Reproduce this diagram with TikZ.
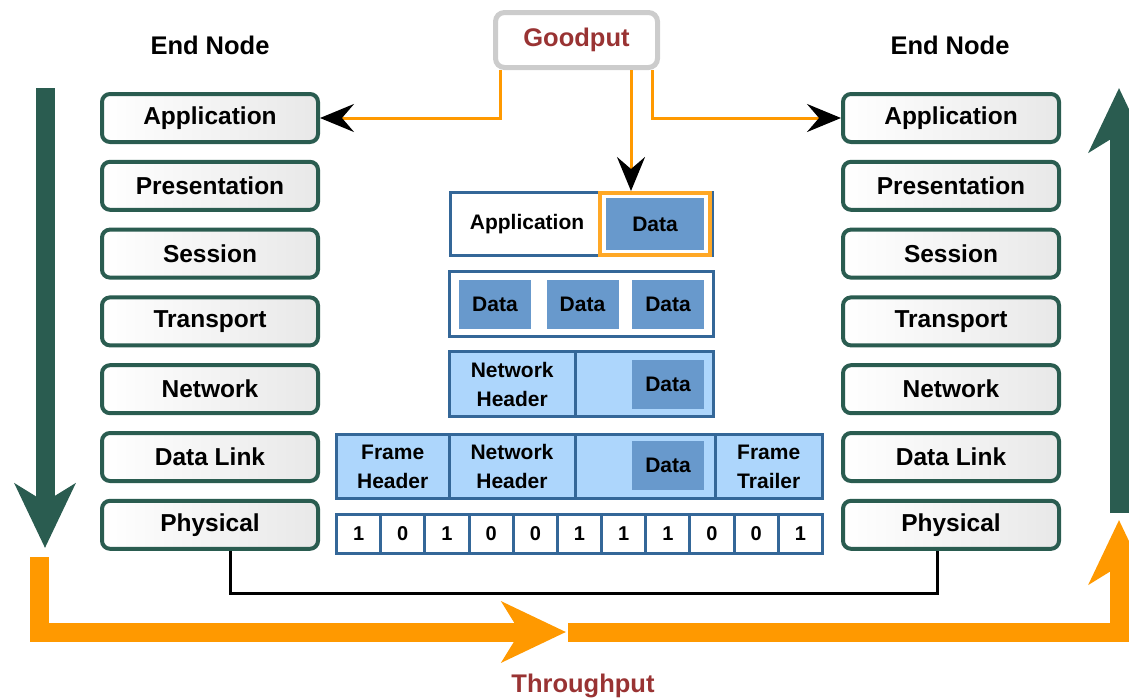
\documentclass[tikz,border=0pt]{standalone}
\usepackage{fontspec}
\setmainfont{Liberation Sans}
\usepackage{xcolor}
\usepackage{tikz}
\usetikzlibrary{arrows.meta, calc, positioning}

\definecolor{vertF}{RGB}{42,92,80}
\definecolor{bleuB}{RGB}{52,103,152}
\definecolor{bleuD}{RGB}{104,153,204}
\definecolor{bleuC}{RGB}{173,214,252}
\definecolor{orangeF}{RGB}{255,153,0}
\definecolor{rougeT}{RGB}{153,51,51}

\begin{document}
\begin{tikzpicture}[x=1pt, y=-1pt,
    couche/.style={draw=vertF, line width=4pt, rounded corners=8pt, left color=white, right color=black!9,
        minimum width=216pt, minimum height=48pt, inner sep=0pt, font=\fontsize{24.5}{28}\selectfont\bfseries},
    titre/.style={font=\fontsize{25.5}{30}\selectfont\bfseries},
    trame/.style={draw=bleuB, line width=3pt, inner sep=0pt},
    champ/.style={trame, fill=bleuC, align=center, font=\fontsize{21}{29}\selectfont\bfseries},
    donnee/.style={fill=bleuD, minimum width=72pt, minimum height=49pt, inner sep=0pt, font=\fontsize{21}{29}\selectfont\bfseries},
    bit/.style={trame, fill=white, minimum width=44.18pt, minimum height=39pt, font=\fontsize{20}{24}\selectfont\bfseries},
    filo/.style={draw=orangeF, line width=3pt, -{Stealth[black, length=34pt, width=28pt, inset=12pt]}},
    grosse/.style={line width=19pt, line join=miter, -{Stealth[length=64pt, width=60pt, inset=18pt]}}
]
    \useasboundingbox (0,0) rectangle (1129,699);

    % Couches OSI
    \foreach \nom [count=\i] in {Application, Presentation, Session, Transport, Network, Data Link, Physical} {
        \node[couche] (g\i) at (210, {50.2+67.8*\i}) {\nom};
        \node[couche] (d\i) at (951, {50.2+67.8*\i}) {\nom};
    }

    % Titres
    \node[titre] (titreG) at (210,45) {End Node};
    \node[titre] (titreD) at (950,45) {End Node};
    \node[titre, text=rougeT, draw=black!20, line width=5pt, rounded corners=9pt, fill=white,
        minimum width=162pt, minimum height=55pt, inner sep=0pt] (gp) at (576.5,40) {Goodput};
    \node[titre, text=rougeT] (tp) at (583,686) {Throughput};

    % Application
    \node[trame, fill=white, minimum width=262pt, minimum height=63pt] (pApp) at (581.5,224) {};
    \node[font=\fontsize{21}{29}\selectfont\bfseries] (tApp) at (527,224) {Application};
    \node[draw=orangeF!85, line width=4pt, minimum width=110pt, minimum height=62pt, inner sep=0pt] (cadre) at (655,224) {};
    \node[donnee, minimum width=98pt, minimum height=52pt] (dApp) at (655,224) {Data};

    % Segments
    \node[trame, fill=white, minimum width=264pt, minimum height=65pt] (pSeg) at (581.5,304) {};
    \foreach \x [count=\i] in {495, 582.5, 668}
        \node[donnee] (seg\i) at (\x,304.5) {Data};

    % Paquet
    \node[champ, minimum width=125.5, minimum height=65] (paqH) at (512.25,384) {Network\\Header};
    \node[champ, minimum width=138.5, minimum height=65] (paqD) at (644.25,384) {};
    \node[donnee] (paqData) at (668,384.5) {Data};

    % Trame
    \foreach \c/\w/\nom/\txt in {392.75/112.5/trH/{Frame\\Header}, 512/126/trN/{Network\\Header},
                                 645/140/trD/{}, 768.75/107.5/trT/{Frame\\Trailer}}
        \node[champ, minimum width=\w, minimum height=64] (\nom) at (\c,466.5) {\txt};
    \node[donnee] (trData) at (668,465.5) {Data};

    % Bits
    \foreach \b [count=\i] in {1,0,1,0,0,1,1,1,0,0,1}
        \node[bit] (b\i) at ({336.5+44.18*(\i-0.5)},534) {\b};

    % Goodput
    \draw[filo] ([xshift=7pt]gp.south west) |- (g1.east);
    \draw[filo] ([xshift=-8pt]gp.south east) |- (d1.west);
    \draw[filo] ([xshift=54.5pt]gp.south) -- ([xshift=54.5pt]gp.south |- cadre.north);

    % Cable
    \draw[black, line width=3pt] ([xshift=20pt]g7.south) -- ++(0,43) -| ([xshift=-14pt]d7.south);

    % Grosses fleches
    \coordinate (hautG) at (45,88);
    \coordinate (basG) at (45,548);
    \coordinate (basD) at (1119,513);
    \coordinate (hautD) at (1119,88);
    \draw[grosse, vertF] (hautG) -- (basG);
    \draw[grosse, vertF] (basD) -- (hautD);

    % Throughput
    \coordinate (debutT) at (39,557);
    \coordinate (milieuT) at (566,632);
    \coordinate (repriseT) at (568,632);
    \coordinate (finT) at (1119,520);
    \draw[grosse, orangeF] (debutT) |- (milieuT);
    \draw[grosse, orangeF] (repriseT) -| (finT);

\end{tikzpicture}
\end{document}
